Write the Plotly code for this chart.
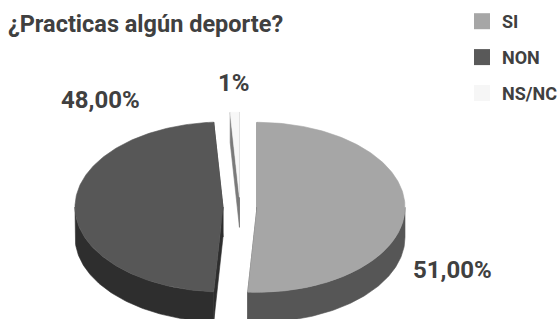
import numpy as np
import plotly.graph_objects as go

# ---- data ----
categories = ["SI", "NON", "NS/NC"]
values = [51, 48, 1]
value_labels = ["51,00%", "48,00%", "1%"]
title_text = "¿Practicas algún deporte?"

# ---- styles ----
top_colors = ["#a6a6a6", "#575757", "#f7f7f7"]
side_colors = ["#565656", "#2e2e2e", "#7a7a7a"]
legend_colors = ["#a6a6a6", "#595959", "#f6f6f6"]
TEXT_COLOR = "#404040"
FONT = "Roboto, Liberation Sans, sans-serif"

# 3D pie projection parameters (pixels)
CX, CY = 240, 207
RX, RY = 148, 85
DEPTH = 30
EXPLODE = 17

label_pos = {"SI": (452, 270), "NON": (100, 100), "NS/NC": (234, 83)}


def project(theta, ox, oy, dz=0.0):
    t = np.radians(theta)
    return ox + RX * np.sin(t), oy - RY * np.cos(t) + dz


def add_poly(fig, x, y, color):
    fig.add_trace(go.Scatter(x=list(x), y=list(y), mode="lines", fill="toself",
                             fillcolor=color, line=dict(color=color, width=0.6),
                             showlegend=False, hoverinfo="skip"))


fig = go.Figure()
total = float(sum(values))
bounds = np.concatenate([[0], np.cumsum(values)]) / total * 360.0

# draw back-most slice first (the one around 12 o'clock), then others
order = [2, 1, 0]
for i in order:
    a0, a1 = bounds[i], bounds[i + 1]
    mid = np.radians((a0 + a1) / 2)
    ox = CX + EXPLODE * np.sin(mid)
    oy = CY - EXPLODE * RY / RX * np.cos(mid)
    n = max(3, int(a1 - a0) + 2)
    th = np.linspace(a0, a1, n)
    ax, ay = project(th, ox, oy)
    xs = np.concatenate([[ox], ax, [ox]])
    ys = np.concatenate([[oy], ay, [oy]])

    # radial cut faces
    for (px, py) in [(ax[0], ay[0]), (ax[-1], ay[-1])]:
        add_poly(fig, [ox, px, px, ox, ox],
                 [oy, py, py + DEPTH, oy + DEPTH, oy], side_colors[i])

    # visible (front) part of the outer wall
    f0, f1 = max(a0, 90.0), min(a1, 270.0)
    if f1 > f0:
        m = max(3, int(f1 - f0) + 2)
        ft = np.linspace(f0, f1, m)
        fx, fy = project(ft, ox, oy)
        add_poly(fig,
                 list(fx) + list(fx[::-1]) + [fx[0]],
                 list(fy) + list((fy + DEPTH)[::-1]) + [fy[0]],
                 side_colors[i])

    # top face
    add_poly(fig, xs, ys, top_colors[i])

# legend entries
for i, cat in enumerate(categories):
    fig.add_trace(go.Scatter(x=[None], y=[None], mode="markers", name=cat,
                             legendgroup=cat,
                             marker=dict(symbol="square", size=16,
                                         color=legend_colors[i])))

annotations = []
for i, cat in enumerate(categories):
    lx, ly = label_pos[cat]
    annotations.append(dict(x=lx, y=ly, xref="x", yref="y", text=value_labels[i],
                            showarrow=False,
                            font=dict(family=FONT, size=24, color=TEXT_COLOR,
                                      weight="bold")))

fig.update_layout(
    width=560, height=319, autosize=False,
    margin=dict(l=0, r=0, t=0, b=0, pad=0, autoexpand=False),
    paper_bgcolor="white", plot_bgcolor="white",
    xaxis=dict(range=[0, 560], visible=False, fixedrange=True, domain=[0, 1]),
    yaxis=dict(range=[319, 0], visible=False, fixedrange=True, domain=[0, 1]),
    title=dict(text=title_text, x=8 / 560, xanchor="left", xref="paper",
               y=1 - 24 / 319, yanchor="middle", yref="paper",
               font=dict(family=FONT, size=23.5, color=TEXT_COLOR, weight="bold")),
    legend=dict(x=462 / 560, y=1 - 3 / 319, xanchor="left", yanchor="top",
                font=dict(family=FONT, size=18, color=TEXT_COLOR, weight="bold"),
                tracegroupgap=9.5, bgcolor="rgba(0,0,0,0)", itemclick=False,
                itemdoubleclick=False),
    annotations=annotations,
    hovermode=False,
    showlegend=True,
)

fig.write_html("out.html", config={"displayModeBar": False},
               post_script="document.body.style.margin='0';")
